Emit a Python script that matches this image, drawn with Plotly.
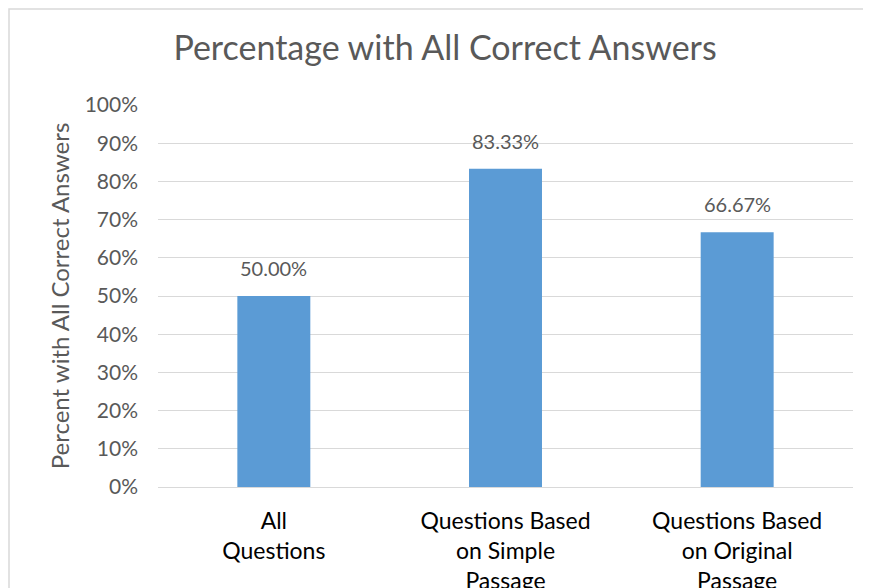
import plotly.graph_objects as go

categories = ["All<br>Questions", "Questions Based<br>on Simple<br>Passage", "Questions Based<br>on Original<br>Passage"]
values = [0.5, 0.8333, 0.6667]
value_labels = ["50.00%", "83.33%", "66.67%"]
tick_vals = [0, 0.1, 0.2, 0.3, 0.4, 0.5, 0.6, 0.7, 0.8, 0.9, 1.0]
tick_text = ["0%", "10%", "20%", "30%", "40%", "50%", "60%", "70%", "80%", "90%", "100%"]

FONT = "Lato, Open Sans, sans-serif"
GRAY = "#595959"

fig = go.Figure(go.Bar(
    x=categories, y=values,
    marker=dict(color="#5B9BD5", line=dict(width=0)),
    hoverinfo="skip",
))

for c, v, t in zip(categories, values, value_labels):
    fig.add_annotation(x=c, y=v, text=t, showarrow=False, yanchor="bottom",
                       yshift=14, font=dict(family=FONT, size=20, color=GRAY))

OFF = 8  # page offset of the figure
W, H = 863, 580
L, R, T, B = 158 - OFF, W - (853 - OFF), 105 - OFF, H - (487 - OFF)
pw, ph = W - L - R, H - T - B

def px_x(p):
    return (p - OFF - L) / pw

def px_y(p):
    return (H - B - (p - OFF)) / ph

fig.add_shape(type="rect", xref="paper", yref="paper",
              x0=px_x(9), x1=px_x(900), y0=px_y(640), y1=px_y(9),
              line=dict(color="#D9D9D9", width=1.5), fillcolor="rgba(0,0,0,0)", layer="below")

fig.update_layout(
    width=W, height=H,
    margin=dict(l=L, r=R, t=T, b=B, autoexpand=False),
    paper_bgcolor="white", plot_bgcolor="white",
    bargap=0.685,
    showlegend=False,
    title=dict(text="Percentage with All Correct Answers", x=(445 - OFF) / W, xanchor="center",
               xref="container", y=1 - (48 - OFF) / H, yanchor="middle",
               font=dict(family=FONT, size=34, color=GRAY)),
    font=dict(family=FONT),
)
fig.update_xaxes(tickfont=dict(family=FONT, size=23, color="black"), automargin=False,
                 showline=False, ticks="", showgrid=False, ticklabelstandoff=18)
fig.update_yaxes(range=[0, 1], tickvals=tick_vals, ticktext=tick_text, automargin=False,
                 tickfont=dict(family=FONT, size=21, color=GRAY),
                 showgrid=True, gridcolor="#D9D9D9", gridwidth=1,
                 zeroline=True, zerolinecolor="#D9D9D9", zerolinewidth=1,
                 ticklabelstandoff=19,
                 title=dict(text="Percent with All Correct Answers",
                            font=dict(family=FONT, size=24, color=GRAY), standoff=8))
fig.write_html("out.html")
